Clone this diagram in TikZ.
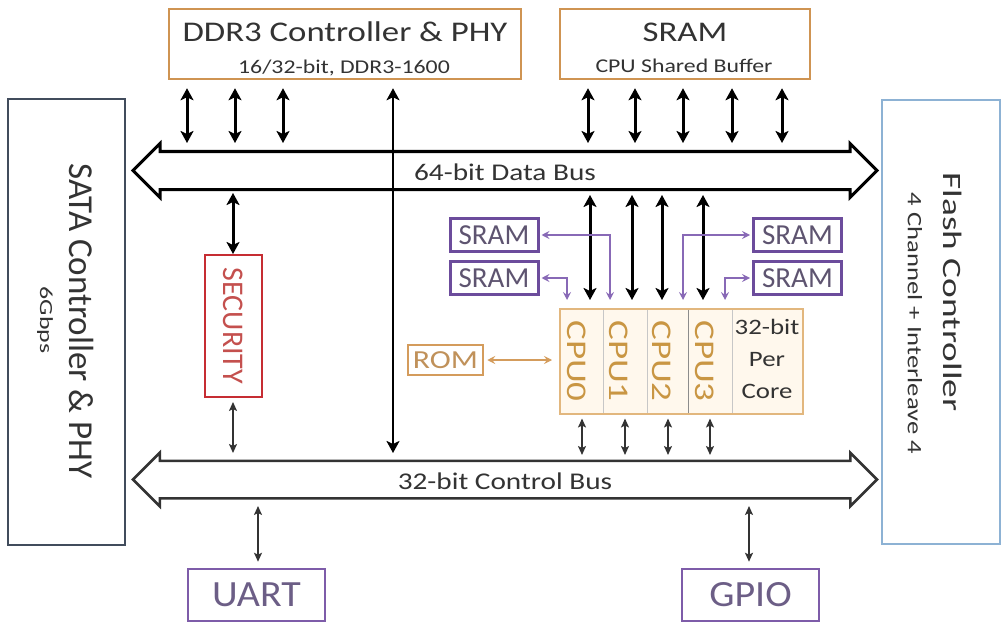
\documentclass[tikz,border=0pt]{standalone}
\usepackage{fontspec}
\setmainfont{Carlito}
\newfontfamily\wide{Carlito}[FakeStretch=1.22]
\newfontfamily\halfwide{Carlito}[FakeStretch=1.08]
\usetikzlibrary{arrows.meta,shapes.arrows,positioning}

\definecolor{ink}{HTML}{333333}
\definecolor{ddrorange}{HTML}{CF9452}
\definecolor{cpuorange}{HTML}{C99643}
\definecolor{cpuedge}{HTML}{E2B77E}
\definecolor{cpufill}{HTML}{FFF8ED}
\definecolor{romorange}{HTML}{D49C5C}
\definecolor{romtext}{HTML}{C0915A}
\definecolor{sataedge}{HTML}{414C5C}
\definecolor{flashedge}{HTML}{8DB2D4}
\definecolor{secred}{HTML}{C62D33}
\definecolor{sectext}{HTML}{C4504E}
\definecolor{sramedge}{HTML}{6C4C9C}
\definecolor{sramtext}{HTML}{5E5470}
\definecolor{ioedge}{HTML}{7E5CA9}
\definecolor{iotext}{HTML}{6C5E86}
\definecolor{lilac}{HTML}{8869B6}

\begin{document}
\begin{tikzpicture}[x=1pt,y=-1pt]
	\tikzstyle{bigbox}=[draw=ddrorange, line width=2.5pt, fill=white]
	\tikzstyle{title}=[inner sep=0pt, text=ink, font=\wide\fontsize{28.5}{30}\selectfont]
	\tikzstyle{subtitle}=[inner sep=0pt, text=ink, font=\wide\fontsize{19.5}{22}\selectfont]
	\tikzstyle{sidetext}=[inner sep=0pt, text=ink, rotate=-90]
	\tikzstyle{bus}=[double arrow, draw, fill=white, double arrow head extend=8pt, double arrow tip angle=90, minimum height=744pt, inner xsep=0pt, inner ysep=0pt, text height=27pt, text depth=8pt, text=ink, font=\wide\fontsize{24}{24}\selectfont]
	\tikzstyle{minisram}=[draw=sramedge, line width=3pt, minimum width=88pt, minimum height=33pt, inner sep=0pt, text=sramtext, font=\fontsize{29}{29}\selectfont]
	\tikzstyle{iobox}=[draw=ioedge, line width=2.5pt, minimum width=137pt, minimum height=52pt, inner sep=0pt, text=iotext, font=\halfwide\fontsize{37}{37}\selectfont]
	\tikzstyle{cputext}=[inner sep=0pt, rotate=-90, xscale=1.3, text=cpuorange, font=\fontsize{28.5}{28.5}\selectfont]
	\tikzstyle{bigarrow}=[{Stealth[length=12pt,width=13pt,inset=3pt]}-{Stealth[length=12pt,width=13pt,inset=3pt]}, line width=3pt]
	\tikzstyle{thinarrow}=[{Stealth[length=9pt,width=8pt,inset=2pt]}-{Stealth[length=9pt,width=8pt,inset=2pt]}, line width=1.8pt, draw=ink]
	\tikzstyle{sramarrow}=[{Stealth[length=8pt,width=8pt,inset=3pt]}-{Stealth[length=8pt,width=8pt,inset=3pt]}, line width=1.5pt, draw=lilac]
	\tikzstyle{romarrow}=[{Stealth[length=8pt,width=8pt,inset=3pt]}-{Stealth[length=8pt,width=8pt,inset=3pt]}, line width=1.3pt, draw=romorange]
	\useasboundingbox (0,0) rectangle (1001,623);
		\node[bigbox, minimum width=352pt, minimum height=70pt] (ddr) at (345,44) {};
		\node[title, anchor=base] (ddrname) at (345,42) {DDR3 Controller \& PHY};
		\node[subtitle, anchor=base] (ddrinfo) at (344,74) {16/32-bit, DDR3-1600};
		\node[bigbox, minimum width=250pt, minimum height=70pt] (sram) at (685,44) {};
		\node[title, anchor=base] (sramname) at (685,42) {SRAM};
		\node[subtitle, anchor=base] (sraminfo) at (684,73) {CPU Shared Buffer};
		\node[draw=sataedge, line width=2pt, minimum width=117pt, minimum height=446pt] (sata) at (66.5,322) {};
		\node[sidetext, font=\fontsize{35}{35}\selectfont] (sataname) at (82,321) {SATA Controller \& PHY};
		\node[sidetext, xscale=1.4, font=\fontsize{18.5}{18.5}\selectfont] (satarate) at (45,320) {6Gbps};
		\node[draw=flashedge, line width=2pt, minimum width=118pt, minimum height=444pt] (flash) at (941,322) {};
		\node[sidetext, xscale=1.41, font=\fontsize{26.5}{26.5}\selectfont] (flashname) at (953,292) {Flash Controller};
		\node[sidetext, xscale=1.3, font=\fontsize{20.5}{20.5}\selectfont] (flashinfo) at (915,323.5) {4 Channel + Interleave 4};
		\node[bus, line width=3pt] (databus) at (505,170.5) {64-bit Data Bus};
		\node[bus, line width=2.5pt, draw=ink] (ctrlbus) at (505,479.5) {32-bit Control Bus};
		\node[draw=secred, line width=2pt, minimum width=57pt, minimum height=142pt] (security) at (233.5,326) {};
		\node[sidetext, text=sectext, font=\fontsize{30}{30}\selectfont] (secname) at (233.5,326) {SECURITY};
		\node[draw=cpuedge, fill=cpufill, line width=2pt, minimum width=243pt, minimum height=105pt] (cpus) at (681.5,361) {};
			\foreach \x in {603.5,647,732}
				\draw[black!22, line width=1pt] (\x,309.5) -- (\x,412.5);
			\draw[black!45, line width=1pt] (688.5,309.5) -- (688.5,412.5);
		\node[cputext] (cpu0) at (577,361) {CPU0};
		\node[cputext] (cpu1) at (619,361) {CPU1};
		\node[cputext] (cpu2) at (662,361) {CPU2};
		\node[cputext] (cpu3) at (705,361) {CPU3};
		\node[align=center, text=ink, font=\wide\fontsize{22}{32}\selectfont] (percore) at (767,359) {32-bit\\Per\\Core};
		\node[minisram] (sramla) at (494,235) {SRAM};
		\node[minisram, below=7pt of sramla] (sramlb) {SRAM};
		\node[minisram] (sramra) at (797.5,235) {SRAM};
		\node[minisram, below=7pt of sramra] (sramrb) {SRAM};
		\node[draw=romorange, line width=2.5pt, minimum width=75pt, minimum height=30pt, inner sep=0pt, text=romtext, font=\wide\fontsize{26}{26}\selectfont] (rom) at (445.5,360) {ROM};
		\node[iobox] (uart) at (256.5,595) {UART};
		\node[iobox] (gpio) at (750.5,595) {GPIO};
			\foreach \x in {187,235,283}
				\draw[bigarrow, shorten <=8pt, shorten >=27.5pt] (\x,0 |- ddr.south) -- (\x,0 |- databus.center);
			\foreach \x in {588,635,683,732,782}
				\draw[bigarrow, shorten <=8pt, shorten >=27.5pt] (\x,0 |- sram.south) -- (\x,0 |- databus.center);
			\draw[bigarrow, line width=2.5pt, shorten <=8pt, shorten >=26.5pt] (393,0 |- ddr.south) -- (393,0 |- ctrlbus.center);
			\draw[bigarrow, shorten <=22.5pt] (233,0 |- databus.center) -- (233,0 |- security.north);
			\foreach \x in {590,632,662,703}
				\draw[bigarrow, shorten <=24.5pt, shorten >=7.5pt] (\x,0 |- databus.center) -- (\x,0 |- cpus.north);
			\draw[thinarrow, shorten <=4pt, shorten >=26.5pt] (233,0 |- security.south) -- (233,0 |- ctrlbus.center);
			\foreach \x in {582,625,668,710}
				\draw[thinarrow, shorten <=4pt, shorten >=24.5pt] (\x,0 |- cpus.south) -- (\x,0 |- ctrlbus.center);
			\draw[thinarrow, shorten <=26.5pt, shorten >=6pt] (258,0 |- ctrlbus.center) -- (258,0 |- uart.north);
			\draw[thinarrow, shorten <=26.5pt, shorten >=6pt] (749,0 |- ctrlbus.center) -- (749,0 |- gpio.north);
			\draw[sramarrow, shorten <=2pt, shorten >=7.5pt] (sramla.east) -| (610,0 |- cpus.north);
			\draw[sramarrow, shorten <=2pt, shorten >=7.5pt] (sramlb.east) -| (567,0 |- cpus.north);
			\draw[sramarrow, shorten <=7.5pt, shorten >=2pt] (683,0 |- cpus.north) |- (sramra.west);
			\draw[sramarrow, shorten <=7.5pt, shorten >=2pt] (725,0 |- cpus.north) |- (sramrb.west);
			\draw[romarrow, shorten <=3pt, shorten >=7pt] (rom.east) -- (cpus.west |- rom.east);
\end{tikzpicture}
\end{document}
